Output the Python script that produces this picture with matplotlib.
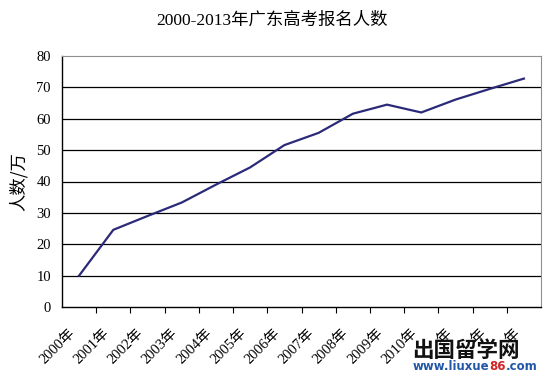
import matplotlib
matplotlib.use('Agg')
import matplotlib.pyplot as plt
import matplotlib.transforms as mtransforms
import numpy as np

plt.rcParams['font.family'] = ['Liberation Serif', 'Noto Sans CJK SC', 'DejaVu Sans']

# data
years = ['2000年', '2001年', '2002年', '2003年', '2004年', '2005年', '2006年',
         '2007年', '2008年', '2009年', '2010年', '年', '年', '年']
applicants = [10, 24.6, 29, 33.3, 39, 44.5, 51.6, 55.5, 61.6, 64.5, 62, 66.1, 69.5, 72.8]
y_ticks = [0, 10, 20, 30, 40, 50, 60, 70, 80]

fig = plt.figure(figsize=(5.49, 3.73), dpi=100)
ax = fig.add_axes([62/549, 1 - 307/373, 479/549, 251/373])

x = np.arange(len(applicants))
ax.plot(x, applicants, color='#2B2A78', linewidth=1.6, zorder=3)

ax.set_xlim(-0.5, len(applicants) - 0.5)
ax.set_ylim(0, 80)
ax.set_yticks(y_ticks)
ax.set_yticklabels([str(v) for v in y_ticks], fontsize=10.5)
ax.tick_params(axis='y', length=0, pad=8)
for v in y_ticks[1:-1]:
    ax.axhline(v, color='black', linewidth=0.9, zorder=1)

# ticks at category boundaries, labels at centres
ax.set_xticks(np.arange(0.5, len(applicants) - 0.5, 1))
ax.set_xticklabels([])
ax.tick_params(axis='x', which='major', length=4, direction='out', color='black')
ax.set_xticks(x, minor=True)
ax.set_xticklabels(years, minor=True, rotation=45, ha='right',
                   rotation_mode='anchor', fontsize=10.5)
ax.tick_params(axis='x', which='minor', length=0, pad=14)
shift = mtransforms.ScaledTranslation(-11/100, 0, fig.dpi_scale_trans)
for lbl in ax.get_xticklabels(minor=True):
    lbl.set_transform(lbl.get_transform() + shift)

for side in ['left', 'bottom']:
    ax.spines[side].set_color('black')
    ax.spines[side].set_linewidth(1.0)
for side in ['top', 'right']:
    ax.spines[side].set_color('#909090')
    ax.spines[side].set_linewidth(0.8)

ax.set_ylabel('人数/万', fontsize=12.5, family=['Noto Sans CJK SC'], labelpad=6)
fig.text(272/549, 1 - 20/373, '2000-2013年广东高考报名人数', ha='center', va='center',
         fontsize=12.5)

# site mark at the bottom right
fig.text(466/549, 1 - 350/373, '出国留学网', ha='center', va='center', fontsize=15.5,
         family=['Noto Sans CJK SC'], fontweight='bold', color='#111111')
renderer = fig.canvas.get_renderer()
xpos = 413
for part, col in [('www.liuxue', '#2257A8'), ('86', '#D0262A'), ('.com', '#2257A8')]:
    t = fig.text(xpos/549, 1 - 367/373, part, ha='left', va='center', fontsize=8.5,
                 family=['DejaVu Sans'], fontweight='bold', color=col)
    xpos += t.get_window_extent(renderer).width

fig.savefig('out.png', dpi=100)
